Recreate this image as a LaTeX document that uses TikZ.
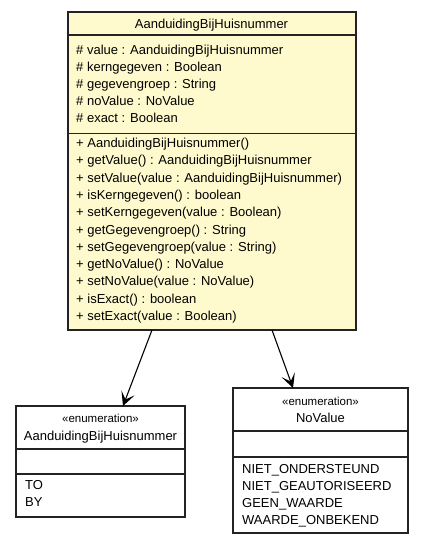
\documentclass[tikz,border=0pt]{standalone}
\usepackage{fontspec}
\setmainfont{Liberation Sans}
\usetikzlibrary{arrows.meta,calc}
\definecolor{classfill}{RGB}{255,250,205}
\definecolor{edgecol}{RGB}{35,35,35}
\begin{document}
\begin{tikzpicture}[x=1pt,y=-1pt,
  box/.style={draw=edgecol, line width=1.2pt, anchor=north west, inner sep=0pt, outer sep=0pt},
  sepline/.style={draw=edgecol, line width=1.2pt},
  txt/.style={font=\fontsize{13}{15}\selectfont, inner sep=0pt, anchor=base west},
  ttl/.style={font=\fontsize{13}{15}\selectfont, inner sep=0pt, anchor=base},
  stereo/.style={font=\fontsize{11.5}{13}\selectfont, inner sep=0pt, anchor=base},
  arr/.style={draw=black, line width=1.1pt, -{Stealth[length=14pt,width=14pt,inset=7pt]}}]
\useasboundingbox (0,0) rectangle (424,544);

% main class
\node[box, fill=classfill, minimum width=288pt, minimum height=318pt] (main) at (68,12) {};
\draw[sepline] ($(main.north west)+(0,23)$) -- ($(main.north east)+(0,23)$);
\draw[sepline] ($(main.north west)+(0,121.5)$) -- ($(main.north east)+(0,121.5)$);
\node[ttl] (mainname) at (211.5,28) {AanduidingBijHuisnummer};
\foreach \t [count=\i from 0] in {%
  \# value : AanduidingBijHuisnummer,
  \# kerngegeven : Boolean,
  \# gegevengroep : String,
  \# noValue : NoValue,
  \# exact : Boolean}
  \node[txt] (att\i) at (76,54+17*\i) {\t};
\foreach \t [count=\i from 0] in {%
  + AanduidingBijHuisnummer(),
  + getValue() : AanduidingBijHuisnummer,
  + setValue(value : AanduidingBijHuisnummer),
  + isKerngegeven() : boolean,
  + setKerngegeven(value : Boolean),
  + getGegevengroep() : String,
  + setGegevengroep(value : String),
  + getNoValue() : NoValue,
  + setNoValue(value : NoValue),
  + isExact() : boolean,
  + setExact(value : Boolean)}
  \node[txt] (op\i) at (76,147.5+17.3*\i) {\t};

% enumeration AanduidingBijHuisnummer
\node[box, fill=white, minimum width=169pt, minimum height=111pt] (enumA) at (16,406) {};
\draw[sepline] ($(enumA.north west)+(0,43)$) -- ($(enumA.north east)+(0,43)$);
\draw[sepline] ($(enumA.north west)+(0,68)$) -- ($(enumA.north east)+(0,68)$);
\node[stereo] (enumAst) at (100.5,422.6) {«enumeration»};
\node[ttl] (enumAname) at (100.5,440.5) {AanduidingBijHuisnummer};
\node[txt] (litTO) at (25,489.5) {TO};
\node[txt] (litBY) at (25,506.5) {BY};

% enumeration NoValue
\node[box, fill=white, minimum width=175pt, minimum height=145pt] (enumN) at (233,388) {};
\draw[sepline] ($(enumN.north west)+(0,43)$) -- ($(enumN.north east)+(0,43)$);
\draw[sepline] ($(enumN.north west)+(0,69)$) -- ($(enumN.north east)+(0,69)$);
\node[stereo] (enumNst) at (320.5,405.3) {«enumeration»};
\node[ttl] (enumNname) at (320.5,422.5) {NoValue};
\foreach \t [count=\i from 0] in {NIET\_ONDERSTEUND, NIET\_GEAUTORISEERD, GEEN\_WAARDE, WAARDE\_ONBEKEND}
  \node[txt] (litN\i) at (242,473.5+17*\i) {\t};

% associations
\draw[arr] ($(main.south west)+(84,0)$) -- ($(enumA.north west)+(107,0)$);
\draw[arr] ($(main.south west)+(204,0)$) -- ($(enumN.north west)+(60,0)$);
\end{tikzpicture}
\end{document}
